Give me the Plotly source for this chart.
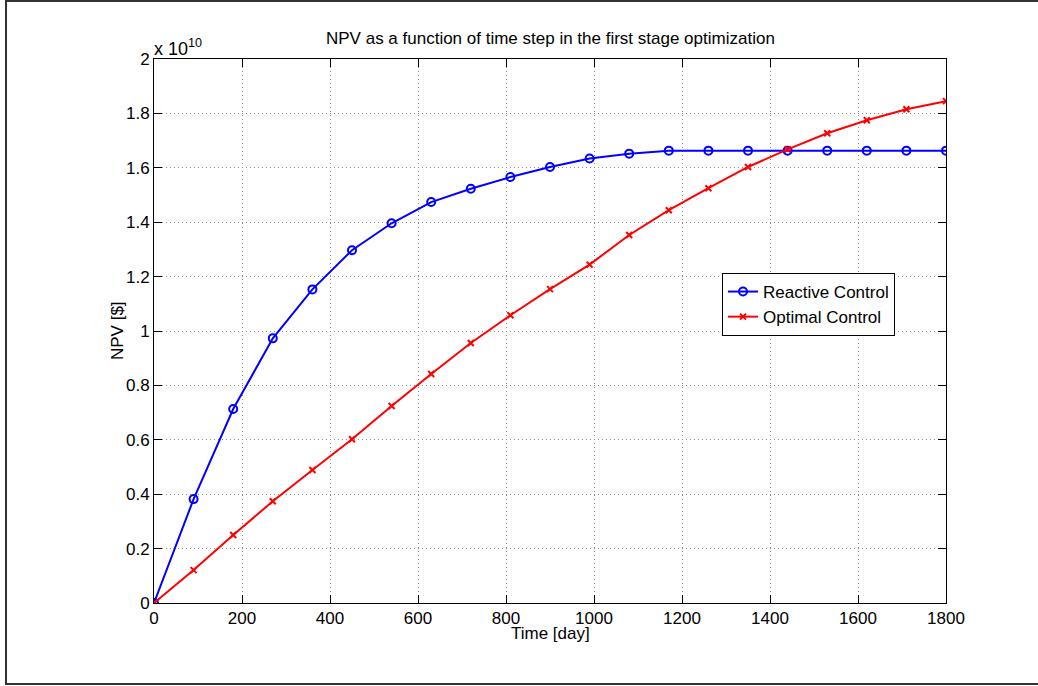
import plotly.graph_objects as go

# Data (NPV in units of 1e10 $)
time_days = [0, 90, 180, 270, 360, 450, 540, 630, 720, 810, 900, 990, 1080,
             1170, 1260, 1350, 1440, 1530, 1620, 1710, 1800]
reactive = [0.0, 0.382, 0.713, 0.973, 1.153, 1.297, 1.396, 1.474, 1.523, 1.566,
            1.603, 1.634, 1.652, 1.663, 1.663, 1.663, 1.663, 1.663, 1.663, 1.663, 1.663]
optimal = [0.0, 0.121, 0.250, 0.374, 0.489, 0.602, 0.724, 0.842, 0.956, 1.058,
           1.154, 1.244, 1.353, 1.444, 1.525, 1.603, 1.668, 1.727, 1.775, 1.815, 1.845]
x_ticks = [0, 200, 400, 600, 800, 1000, 1200, 1400, 1600, 1800]
y_ticks = [0, 0.2, 0.4, 0.6, 0.8, 1.0, 1.2, 1.4, 1.6, 1.8, 2.0]
y_ticktext = ["0", "0.2", "0.4", "0.6", "0.8", "1", "1.2", "1.4", "1.6", "1.8", "2"]

FONT = "Liberation Sans, Arial, Helvetica, sans-serif"

fig = go.Figure()
fig.add_trace(go.Scatter(
    x=time_days, y=reactive, name="Reactive Control", mode="lines+markers",
    line=dict(color="#0000ff", width=2),
    marker=dict(symbol="circle-open", size=8, color="#0000ff", line=dict(width=2, color="#0000ff")),
))
fig.add_trace(go.Scatter(
    x=time_days, y=optimal, name="Optimal Control", mode="lines+markers",
    line=dict(color="#ff0000", width=2),
    marker=dict(symbol="x-thin", size=6, color="#ff0000", line=dict(width=2, color="#ff0000")),
))

axis_common = dict(
    showline=True, linecolor="black", linewidth=1, mirror="ticks",
    ticks="inside", ticklen=8, tickcolor="black", tickwidth=1,
    showgrid=True, gridcolor="#8c8c8c", griddash="1px,3px", gridwidth=1,
    zeroline=False, tickfont=dict(family=FONT, size=17, color="black"),
)

fig.update_xaxes(range=[0, 1800], tickvals=x_ticks, **axis_common)
fig.update_yaxes(range=[0, 2], tickvals=y_ticks, ticktext=y_ticktext, **axis_common)

fig.update_layout(
    width=1038, height=686,
    margin=dict(l=154, r=92, t=59, b=83),
    paper_bgcolor="white", plot_bgcolor="white",
    font=dict(family=FONT, size=17, color="black"),
    showlegend=True,
    legend=dict(
        x=(722 - 154) / 792, y=(603 - 273) / 544, xanchor="left", yanchor="top",
        bordercolor="black", borderwidth=1, bgcolor="white",
        font=dict(family=FONT, size=17, color="black"),
        itemwidth=30, tracegroupgap=0,
    ),
    annotations=[
        dict(text="NPV as a function of time step in the first stage optimization",
             xref="paper", yref="paper", x=0.5, y=(603 - 39) / 544,
             xanchor="center", yanchor="middle", showarrow=False,
             font=dict(family=FONT, size=17, color="black")),
        dict(text="x 10<sup>10</sup>", xref="paper", yref="paper",
             x=(152 - 154) / 792, y=(603 - 47) / 544, xanchor="left", yanchor="middle",
             showarrow=False, font=dict(family=FONT, size=18, color="black")),
        dict(text="Time [day]", xref="paper", yref="paper", x=0.5, y=(603 - 633) / 544,
             xanchor="center", yanchor="middle", showarrow=False,
             font=dict(family=FONT, size=17, color="black")),
        dict(text="NPV [$]", xref="paper", yref="paper", x=(117 - 154) / 792, y=0.5,
             xanchor="center", yanchor="middle", showarrow=False, textangle=-90,
             font=dict(family=FONT, size=17, color="black")),
    ],
    shapes=[
        dict(type="rect", xref="paper", yref="paper",
             x0=(6 - 154) / 792, x1=(1045 - 154) / 792,
             y0=(603 - 684) / 544, y1=(603 - 1) / 544,
             line=dict(color="#333333", width=2), fillcolor="rgba(0,0,0,0)", layer="below"),
    ],
)

fig.write_html("out.html")
